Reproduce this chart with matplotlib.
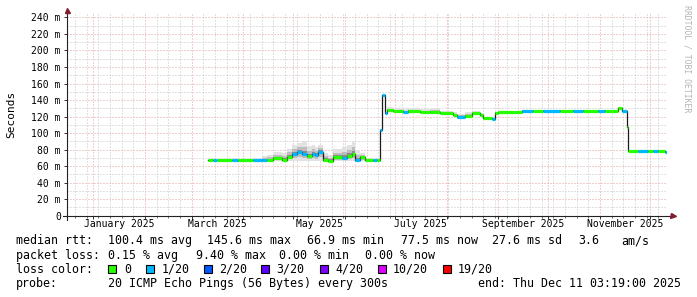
import matplotlib
matplotlib.use("Agg")
import matplotlib.pyplot as plt
import matplotlib.dates as mdates
from matplotlib.ticker import FixedLocator, MultipleLocator, NullFormatter
from matplotlib.patches import Rectangle
import matplotlib.transforms as mtrans
import numpy as np
import pandas as pd

# values (step starts)
med_dates = [
    "2025-03-11", "2025-03-14", "2025-03-16", "2025-03-25", "2025-03-29",
    "2025-04-07", "2025-04-12", "2025-04-15", "2025-04-19", "2025-04-24",
    "2025-04-27", "2025-04-30", "2025-05-03", "2025-05-06", "2025-05-09",
    "2025-05-12", "2025-05-14", "2025-05-16", "2025-05-19", "2025-05-22",
    "2025-05-25", "2025-05-30", "2025-06-02", "2025-06-05", "2025-06-07",
    "2025-06-10", "2025-06-13", "2025-06-18", "2025-06-20", "2025-06-22",
    "2025-06-23", "2025-06-25", "2025-06-26", "2025-06-30", "2025-07-06",
    "2025-07-09", "2025-07-16", "2025-07-22", "2025-07-28", "2025-08-05",
    "2025-08-07", "2025-08-12", "2025-08-16", "2025-08-21", "2025-08-23",
    "2025-08-28", "2025-08-30", "2025-09-01", "2025-09-15", "2025-09-22",
    "2025-09-28", "2025-10-08", "2025-10-16", "2025-10-22", "2025-10-31",
    "2025-11-04", "2025-11-12", "2025-11-14", "2025-11-17", "2025-11-18",
    "2025-11-24", "2025-11-30", "2025-12-03", "2025-12-06", "2025-12-10",
]
data_end = "2025-12-10 22:00"

median_ms = [
    67.0, 67.0, 67.0, 67.0, 67.0,
    67.2, 68.0, 67.4, 69.5, 67.5,
    71.4, 74.7, 77.5, 74.7, 72.3,
    74.7, 73.5, 77.5, 67.5, 66.6,
    70.7, 69.5, 72.3, 74.7, 67.5,
    71.0, 67.0, 67.0, 67.0, 104.0,
    145.6, 124.0, 128.0, 126.5, 125.0,
    126.5, 125.0, 125.5, 124.0, 122.0,
    120.0, 120.5, 124.0, 122.0, 118.5,
    117.5, 124.7, 125.5, 127.3, 127.3,
    127.3, 127.3, 127.3, 127.3, 127.3,
    127.3, 130.0, 127.3, 107.0, 78.5,
    78.5, 78.5, 78.5, 78.0, 77.5,
]

smoke_lo = [
    66.5, 66.5, 66.5, 66.5, 66.5,
    66.5, 66.5, 66.0, 66.0, 66.0,
    66.0, 66.0, 66.5, 66.0, 66.0,
    66.0, 66.0, 66.5, 65.5, 65.5,
    66.0, 66.0, 66.0, 66.0, 66.0,
    66.0, 66.0, 66.0, 66.0, 103.0,
    144.5, 123.0, 126.0, 125.0, 124.0,
    125.0, 124.0, 124.5, 123.0, 121.0,
    119.0, 119.5, 123.0, 121.0, 117.5,
    116.5, 123.5, 124.5, 126.5, 126.5,
    126.5, 126.5, 126.5, 126.5, 126.5,
    126.5, 129.0, 126.5, 106.0, 77.5,
    77.5, 77.5, 77.5, 77.0, 76.5,
]

smoke_hi = [
    67.5, 67.5, 67.5, 67.5, 67.5,
    69.0, 72.0, 74.0, 77.0, 76.0,
    81.0, 85.0, 88.0, 90.0, 84.0,
    86.0, 83.0, 86.0, 76.0, 73.0,
    81.0, 83.0, 85.0, 89.0, 79.0,
    76.0, 70.0, 68.0, 69.0, 105.0,
    146.5, 125.0, 131.0, 130.0, 129.0,
    130.0, 129.0, 130.0, 127.0, 125.0,
    123.0, 125.0, 127.0, 124.0, 120.0,
    119.0, 126.0, 126.5, 127.8, 127.8,
    127.8, 127.8, 127.8, 127.8, 127.8,
    127.8, 131.0, 127.8, 107.5, 79.0,
    79.0, 79.0, 79.0, 78.5, 78.0,
]

# index into loss_labels / loss_colors
loss_idx = [
    0, 1, 0, 1, 0,
    1, 1, 0, 0, 0,
    0, 1, 1, 1, 0,
    1, 1, 1, 0, 0,
    0, 1, 0, 0, 1,
    0, 0, 1, 0, 1,
    1, 1, 0, 0, 1,
    0, 0, 0, 0, 0,
    1, 0, 0, 0, 0,
    1, 0, 0, 1, 0,
    1, 0, 1, 0, 1,
    0, 0, 1, 0, 0,
    1, 0, 1, 0, 1,
]

loss_labels = ["0", "1/20", "2/20", "3/20", "4/20", "10/20", "19/20"]
loss_colors = ["#26ff00", "#00b8ff", "#0059ff", "#5e00ff", "#7e00ff", "#dd00ff", "#ff0000"]

label_months = ["2025-01-01", "2025-03-01", "2025-05-01", "2025-07-01", "2025-09-01", "2025-11-01"]
yticks = [0, 20, 40, 60, 80, 100, 120, 140, 160, 180, 200, 220, 240]

rtt_stats = ["100.4 ms avg", "145.6 ms max", "66.9 ms min", "77.5 ms now", "27.6 ms sd", "3.6", "am/s"]
loss_stats = ["0.15 % avg", "9.40 % max", "0.00 % min", "0.00 % now"]
probe_text = "20 ICMP Echo Pings (56 Bytes) every 300s"
end_text = "end: Thu Dec 11 03:19:00 2025"

# ---- layout (pixels) ----
W, H = 697, 297
AX_L, AX_W = 67, 600
AX_BOT, AX_TOP = 215.7, 13.3
AX_H = AX_BOT - AX_TOP
MONO = "DejaVu Sans Mono"

plt.rcParams["font.family"] = [MONO]
fig = plt.figure(figsize=(W / 100, H / 100), dpi=100)
fig.patch.set_facecolor("white")
ax = fig.add_axes([AX_L / W, (H - AX_BOT) / H, AX_W / W, AX_H / H])
ax.set_facecolor("white")
ax.xaxis_date()

t0 = mdates.date2num(pd.Timestamp("2024-12-16 03:19"))
t1 = mdates.date2num(pd.Timestamp("2025-12-11 03:19"))
ax.set_xlim(t0, t1)
ax.set_ylim(0, 245)

edges = mdates.date2num(pd.to_datetime(med_dates + [data_end], format="mixed").to_pydatetime())
med = np.array(median_ms)
lo = np.array(smoke_lo)
hi = np.array(smoke_hi)
med_e = np.append(med, med[-1])
lo_e = np.append(lo, lo[-1])
hi_e = np.append(hi, hi[-1])

# smoke
ax.fill_between(edges, lo_e, hi_e, step="post", color="#e2e2e2", lw=0, zorder=2)
ax.fill_between(edges, lo_e + (med_e - lo_e) * 0.4, med_e + (hi_e - med_e) * 0.55,
                step="post", color="#bdbdbd", lw=0, zorder=2)
ax.fill_between(edges, med_e, med_e + (hi_e - med_e) * 0.25,
                step="post", color="#8a8a8a", lw=0, zorder=2)

# median line + loss colour
ax.step(edges, med_e, where="post", color="#1a1a1a", lw=0.9, zorder=3)
ax.hlines(med, edges[:-1], edges[1:], colors=[loss_colors[k] for k in loss_idx],
          lw=2.3, zorder=4, capstyle="butt")

# grid
ax.yaxis.set_major_locator(FixedLocator(yticks))
ax.yaxis.set_minor_locator(MultipleLocator(10))
ax.set_yticklabels([f"{v} m" if v else "0" for v in yticks])
ax.xaxis.set_major_locator(mdates.MonthLocator())
ax.xaxis.set_minor_locator(mdates.WeekdayLocator(byweekday=mdates.SA))
ax.xaxis.set_major_formatter(NullFormatter())
ax.set_axisbelow(True)
ax.grid(which="minor", color="#c4c4c4", ls=(0, (1, 2)), lw=0.72)
ax.grid(which="major", color="#e6a0a0", ls=(0, (1, 2)), lw=0.72)

for s in ax.spines.values():
    s.set_visible(False)
ax.tick_params(axis="y", which="major", length=2.5, width=0.7, pad=2, labelsize=7, color="#333333")
ax.tick_params(axis="y", which="minor", length=0)
ax.tick_params(axis="x", which="major", length=2.2, width=0.7, color="#333333")
ax.tick_params(axis="x", which="minor", length=1.4, width=0.6, color="#555555")

# axis lines with arrows
ax.plot([-4 / AX_W, 1 + 4 / AX_W], [0, 0], transform=ax.transAxes, color="#222222",
        lw=0.8, clip_on=False, zorder=6)
ax.plot([0, 0], [-4 / AX_H, 1 + 1 / AX_H], transform=ax.transAxes, color="#222222",
        lw=0.8, clip_on=False, zorder=6)
ax.plot([1 + 6 / AX_W], [0], marker=">", ms=3.6, color="#7f1f2f", mec="#7f1f2f",
        transform=ax.transAxes, clip_on=False, zorder=7)
ax.plot([0], [1 + 3 / AX_H], marker="^", ms=3.6, color="#7f1f2f", mec="#7f1f2f",
        transform=ax.transAxes, clip_on=False, zorder=7)

# month labels centred in their month
trans = mtrans.blended_transform_factory(ax.transData, ax.transAxes)
for m in label_months:
    a = pd.Timestamp(m)
    b = a + pd.offsets.MonthBegin(1)
    mid = mdates.date2num(a + (b - a) / 2)
    ax.text(mid, -8.6 / AX_H, a.strftime("%B %Y"), transform=trans, ha="center",
            va="center", fontsize=7)

fig.text(11 / W, 1 - 114 / H, "Seconds", rotation=90, ha="center", va="center", fontsize=8)
fig.text(687 / W, 1 - 5 / H, "RRDTOOL / TOBI OETIKER", rotation=270, ha="center",
         va="top", fontsize=5.9, color="#b4b4b4")

# legend block
LEG = 8.4
row_y = [240.7, 255.3, 269.3, 283.7]


def put(x, row, s):
    fig.text(x / W, 1 - row_y[row] / H, s, ha="left", va="center", fontsize=LEG)


put(16, 0, "median rtt:")
for x, s in zip([108, 207, 307, 401, 492, 578, 621], rtt_stats):
    put(x, 0, s)
put(16, 1, "packet loss:")
for x, s in zip([108, 196, 279, 365], loss_stats):
    put(x, 1, s)
put(16, 2, "loss color:")
box_x = [108.4, 145.8, 203.6, 261.3, 319.8, 377.6, 442.6]
for x, lab, col in zip(box_x, loss_labels, loss_colors):
    fig.add_artist(Rectangle((x / W, 1 - (row_y[2] + 4) / H), 8 / W, 8 / H,
                             transform=fig.transFigure, facecolor=col,
                             edgecolor="black", lw=0.8))
    put(x + 15.4, 2, lab)
put(16, 3, "probe:")
put(108, 3, probe_text)
put(478, 3, end_text)

fig.savefig("out.png", dpi=100, facecolor="white")
